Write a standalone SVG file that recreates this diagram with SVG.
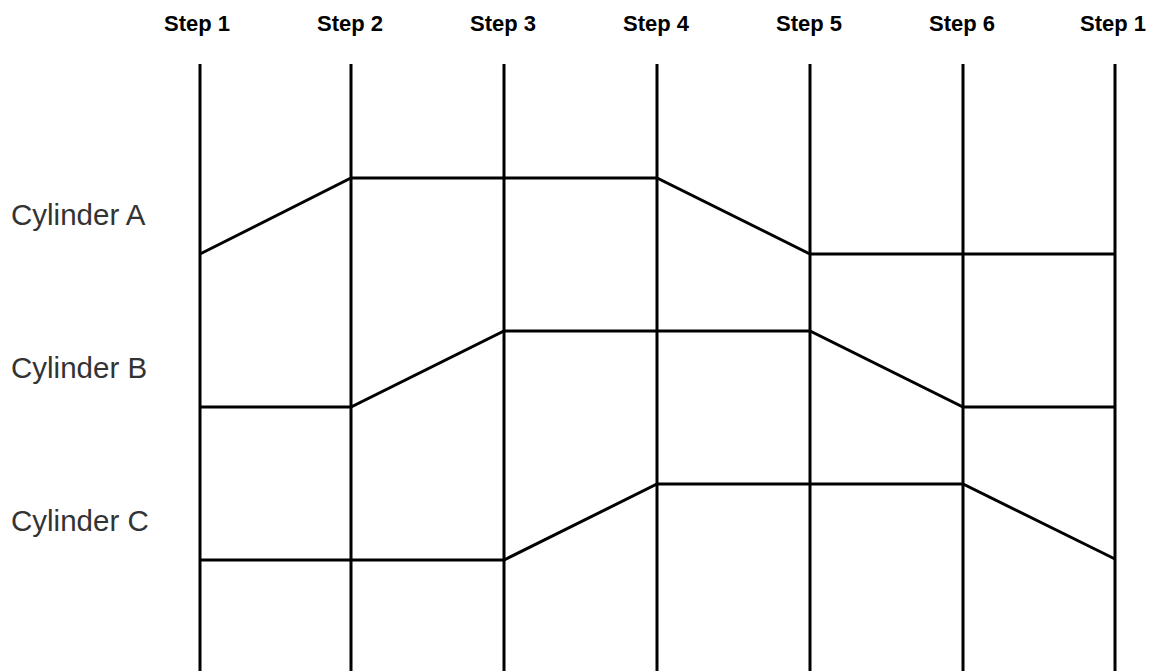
<svg xmlns="http://www.w3.org/2000/svg" width="1153" height="671" viewBox="0 0 1153 671">
<style>
.step{font-family:"Liberation Sans",Arial,sans-serif;font-size:22px;font-weight:bold;fill:#000;text-anchor:middle}
.cyl{font-family:"Liberation Sans",Arial,sans-serif;font-size:29.5px;fill:#333}
.ln{stroke:#000;stroke-width:3;fill:none;stroke-linejoin:miter}
</style>
<rect width="1153" height="671" fill="#fff"/>
<g id="steps">
<g id="step1"><text class="step" x="197" y="31">Step 1</text><line class="ln" x1="200" y1="64" x2="200" y2="671"/></g>
<g id="step2"><text class="step" x="350" y="31">Step 2</text><line class="ln" x1="351" y1="64" x2="351" y2="671"/></g>
<g id="step3"><text class="step" x="503" y="31">Step 3</text><line class="ln" x1="504" y1="64" x2="504" y2="671"/></g>
<g id="step4"><text class="step" x="656" y="31">Step 4</text><line class="ln" x1="657" y1="64" x2="657" y2="671"/></g>
<g id="step5"><text class="step" x="809" y="31">Step 5</text><line class="ln" x1="810" y1="64" x2="810" y2="671"/></g>
<g id="step6"><text class="step" x="962" y="31">Step 6</text><line class="ln" x1="963" y1="64" x2="963" y2="671"/></g>
<g id="step1b"><text class="step" x="1113" y="31">Step 1</text><line class="ln" x1="1115" y1="64" x2="1115" y2="671"/></g>
</g>
<g id="cylA"><text class="cyl" x="11" y="225">Cylinder A</text></g>
<g id="cylB"><text class="cyl" x="11" y="378">Cylinder B</text></g>
<g id="cylC"><text class="cyl" x="11" y="531">Cylinder C</text></g>
<g id="connectors">
<polyline class="ln" points="200,254 351,178 657,178 810,254 1115,254"/>
<polyline class="ln" points="200,407 351,407 504,331 810,331 963,407 1115,407"/>
<polyline class="ln" points="200,560 504,560 657,484 963,484 1115,559"/>
</g>
</svg>
